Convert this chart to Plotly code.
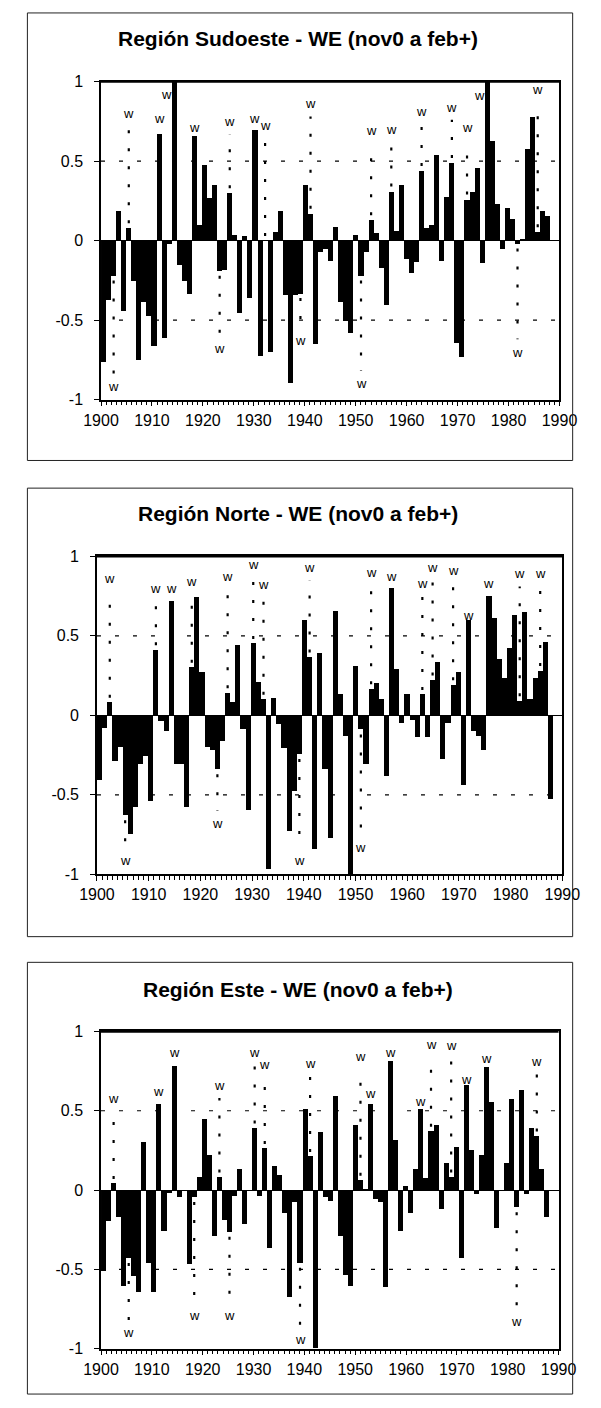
import plotly.graph_objects as go

# Winter (Nov-Feb) WE index per region, one value per season 1900..1988
years = list(range(1900, 1989))

sudoeste = [
    -0.76, -0.37, -0.22, 0.19, -0.44, 0.08, -0.25, -0.75, -0.38, -0.47,
    -0.66, 0.67, -0.61, -0.02, 1.00, -0.15, -0.25, -0.33, 0.66, 0.10,
    0.48, 0.27, 0.35, -0.19, -0.18, 0.30, 0.035, -0.45, 0.03, -0.36,
    0.70, -0.72, 0.00, -0.70, 0.06, 0.19, -0.34, -0.89, -0.34, -0.33,
    0.35, 0.17, -0.65, -0.07, -0.05, -0.125, 0.09, -0.38, -0.50, -0.58,
    0.035, -0.22, -0.07, 0.13, 0.05, -0.17, -0.40, 0.31, 0.065, 0.35,
    -0.11, -0.20, -0.13, 0.44, 0.085, 0.10, 0.54, -0.125, 0.28, 0.49,
    -0.64, -0.73, 0.26, 0.31, 0.46, -0.14, 1.00, 0.63, 0.23, -0.05,
    0.21, 0.14, -0.02, 0.015, 0.58, 0.78, 0.055, 0.19, 0.16,
]

norte = [
    -0.41, -0.08, 0.08, -0.29, -0.20, -0.63, -0.75, -0.575, -0.31, -0.26,
    -0.54, 0.41, -0.04, -0.10, 0.72, -0.31, -0.31, -0.575, 0.30, 0.74,
    0.27, -0.20, -0.22, -0.34, -0.16, 0.14, 0.08, 0.44, -0.09, -0.60,
    0.45, 0.21, 0.10, -0.97, 0.11, -0.055, -0.21, -0.73, -0.48, -0.245,
    0.60, 0.365, -0.84, 0.39, -0.34, -0.77, 0.655, 0.13, -0.13, -1.00,
    0.31, -0.09, -0.31, 0.165, 0.20, 0.10, -0.385, 0.80, 0.29, -0.05,
    0.135, -0.03, -0.14, 0.13, -0.14, 0.22, 0.335, -0.275, -0.05, 0.19,
    0.27, -0.44, 0.60, -0.10, -0.13, -0.22, 0.75, 0.61, 0.35, 0.23,
    0.42, 0.63, 0.09, 0.645, 0.10, 0.23, 0.28, 0.46, -0.53,
]

este = [
    -0.515, -0.20, 0.04, -0.175, -0.61, -0.43, -0.545, -0.645, 0.30, -0.46,
    -0.645, 0.54, -0.26, -0.02, 0.78, -0.045, 0.00, -0.47, -0.045, 0.08,
    0.445, 0.22, -0.29, 0.08, -0.19, -0.265, -0.04, 0.13, -0.22, 0.00,
    0.39, -0.04, 0.26, -0.37, 0.15, 0.09, -0.15, -0.68, -0.08, -0.46,
    0.51, 0.21, -1.00, 0.365, -0.045, -0.07, 0.59, -0.29, -0.54, -0.61,
    0.41, 0.06, -0.01, 0.54, -0.06, -0.08, -0.615, 0.81, 0.31, -0.26,
    0.02, -0.145, 0.13, 0.51, 0.07, 0.37, 0.41, -0.12, 0.165, 0.08,
    0.27, -0.43, 0.66, 0.25, -0.03, 0.22, 0.77, 0.55, -0.24, 0.00,
    0.165, 0.57, -0.11, 0.63, -0.03, 0.39, 0.34, 0.13, -0.17,
]

# Warm ("w") winters and the height at which each region's "w" marker sits
warm_years = [1902, 1905, 1911, 1914, 1918, 1923, 1925, 1930, 1932, 1939,
              1941, 1951, 1953, 1957, 1963, 1965, 1969, 1972, 1976, 1982, 1986]
w_sudoeste = [-0.92, 0.80, 0.77, 0.92, 0.71, -0.68, 0.75, 0.77, 0.725, -0.63,
              0.86, -0.90, 0.69, 0.70, 0.81, None, 0.84, 0.71, 0.91, -0.70, 0.95]
w_norte = [0.86, -0.91, 0.80, 0.80, 0.84, -0.68, 0.87, 0.95, 0.82, -0.91,
           0.93, -0.83, 0.90, 0.87, 0.83, 0.93, 0.91, 0.63, 0.83, 0.89, 0.89]
w_este = [0.58, -0.90, 0.62, 0.87, -0.79, 0.66, -0.79, 0.87, 0.79, -0.94,
          0.80, 0.84, 0.61, 0.87, 0.56, 0.92, 0.91, 0.70, 0.83, -0.83, 0.81]

titles = [
    "Región Sudoeste - WE (nov0 a feb+)",
    "Región Norte - WE (nov0 a feb+)",
    "Región Este - WE (nov0 a feb+)",
]
decade_ticks = list(range(1900, 1991, 10))
y_tickvals = [-1, -0.5, 0, 0.5, 1]
y_ticktext = ["-1", "-0.5", "0", "0.5", "1"]

# ---------------------------------------------------------------- layout
FIG_W, FIG_H = 601, 1408
FONT = "Liberation Sans, Arial, Helvetica, sans-serif"
# plot areas in pixels: left, right, top, bottom
boxes = [(88.3, 576.0, 74.5, 396.5),
         (84.0, 579.0, 555.0, 877.0),
         (88.3, 575.0, 1036.0, 1357.0)]
# outer frame around each panel: left, right, top, bottom
frames = [(10, 590, 5, 458), (10, 590, 486, 940), (10, 590, 966, 1403)]
title_y = [31, 512, 993]
BAR_SPAN = 0.98          # share of the axis width filled by the yearly bars

series = [sudoeste, norte, este]
w_levels = [w_sudoeste, w_norte, w_este]


def px_x(p):
    return p / FIG_W


def px_y(p):
    return 1 - p / FIG_H


fig = go.Figure()
layout = dict(
    width=FIG_W, height=FIG_H,
    margin=dict(l=0, r=0, t=0, b=0),
    paper_bgcolor="white", plot_bgcolor="white",
    showlegend=False, bargap=0,
    font=dict(family=FONT, size=16, color="black"),
)
shapes, annotations = [], []

for k in range(3):
    left, right, top, bottom = boxes[k]
    xdom = [px_x(left), px_x(right)]
    ydom = [px_y(bottom), px_y(top)]
    tick_ax = 2 * k + 1          # decade axis carrying labels and frame
    bar_ax = 2 * k + 2           # axis the bars are positioned on
    xt = "x" if tick_ax == 1 else f"x{tick_ax}"
    xb = f"x{bar_ax}"
    yy = "y" if k == 0 else f"y{k + 1}"
    vals = series[k]

    fig.add_trace(go.Scatter(x=[decade_ticks[0], decade_ticks[-1]], y=[0, 0],
                             xaxis=xt, yaxis=yy, mode="markers",
                             marker=dict(opacity=0), hoverinfo="skip"))
    fig.add_trace(go.Bar(x=years, y=vals, xaxis=xb, yaxis=yy, width=1,
                         marker=dict(color="black", line=dict(width=0))))

    n = len(years)
    layout["xaxis" if tick_ax == 1 else f"xaxis{tick_ax}"] = dict(
        domain=xdom, anchor=yy, range=[decade_ticks[0], decade_ticks[-1]],
        tickmode="array", tickvals=decade_ticks,
        ticks="outside", ticklen=5, tickwidth=1, tickcolor="black",
        minor=dict(dtick=1, tick0=1900, ticks="outside", ticklen=4,
                   tickwidth=1, tickcolor="black"),
        showline=True, linecolor="black", linewidth=1.5, mirror=True,
        showgrid=False, zeroline=False,
        tickfont=dict(family=FONT, size=16, color="black"),
    )
    layout[f"xaxis{bar_ax}"] = dict(
        domain=xdom, anchor=yy, overlaying=xt, visible=False,
        range=[years[0] - 0.5, years[0] - 0.5 + n / BAR_SPAN],
    )
    layout["yaxis" if k == 0 else f"yaxis{k + 1}"] = dict(
        domain=ydom, anchor=xt, range=[-1, 1],
        tickmode="array", tickvals=y_tickvals, ticktext=y_ticktext,
        ticks="outside", ticklen=5, tickwidth=1, tickcolor="black",
        ticklabelstandoff=8,
        showline=True, linecolor="black", linewidth=1.5, mirror=True,
        showgrid=False, zeroline=True, zerolinecolor="black", zerolinewidth=1,
        tickfont=dict(family=FONT, size=16, color="black"),
    )

    # heavier top edge of the plot box
    shapes.append(dict(type="line", xref=f"{xt} domain", yref=f"{yy} domain",
                       x0=0, x1=1, y0=1, y1=1,
                       line=dict(color="black", width=2.5)))

    # dashed reference lines at +/-0.5
    for lvl in (0.5, -0.5):
        shapes.append(dict(type="line", xref=f"{xt} domain", yref=yy,
                           x0=0, x1=1, y0=lvl, y1=lvl, layer="below",
                           line=dict(color="black", width=1.2,
                                     dash="4px,14px")))

    # "w" markers with their dotted leaders
    for yr, lvl in zip(warm_years, w_levels[k]):
        if lvl is None:
            continue
        v = vals[yr - years[0]]
        sign = 1 if lvl > 0 else -1
        bar_mag = max(v * sign, 0.0)
        start = bar_mag + 0.03
        end = abs(lvl) - 0.08
        if end - start > 0.04:
            shapes.append(dict(type="line", xref=xb, yref=yy,
                               x0=yr, x1=yr, y0=sign * start, y1=sign * end,
                               line=dict(color="black", width=2.2,
                                         dash="3px,15px")))
        shift = -8 if bar_mag >= abs(lvl) - 0.02 else 0
        annotations.append(dict(text="w", x=yr, y=lvl, xref=xb, yref=yy,
                                showarrow=False, xshift=shift,
                                font=dict(family=FONT, size=13,
                                          color="black")))

    # panel title and frame
    annotations.append(dict(text=f"<b>{titles[k]}</b>", xref="paper",
                            yref="paper", x=px_x(298), y=px_y(title_y[k]),
                            xanchor="center", yanchor="middle",
                            showarrow=False,
                            font=dict(family=FONT, size=21, color="black")))
    fl, fr, ft, fb = frames[k]
    shapes.append(dict(type="rect", xref="paper", yref="paper",
                       x0=px_x(fl), x1=px_x(fr), y0=px_y(fb), y1=px_y(ft),
                       line=dict(color="#222222", width=1)))

layout["shapes"] = shapes
layout["annotations"] = annotations
fig.update_layout(**layout)
fig.write_html("out.html")
